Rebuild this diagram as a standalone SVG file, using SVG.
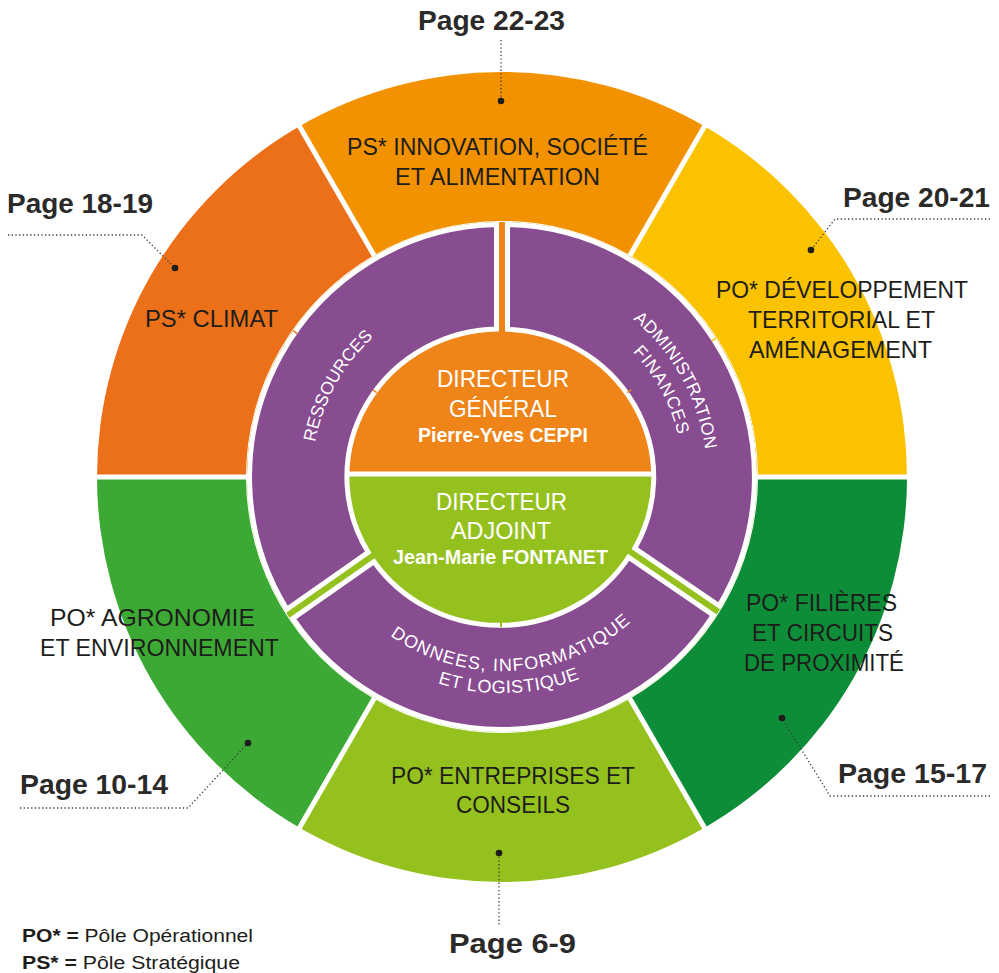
<svg xmlns="http://www.w3.org/2000/svg" width="999" height="973" viewBox="0 0 999 973">
<style>
.seg{font-family:"Liberation Sans",Arial,sans-serif;font-size:24px;fill:#1d1d1b;text-anchor:middle}
.page{font-family:"Liberation Sans",Arial,sans-serif;font-size:28px;font-weight:bold;fill:#2b2a29}
.dir{font-family:"Liberation Sans",Arial,sans-serif;font-size:24.5px;fill:#fff;text-anchor:middle}
.name{font-family:"Liberation Sans",Arial,sans-serif;font-size:20px;font-weight:bold;fill:#fff;text-anchor:middle}
.ring{font-family:"Liberation Sans",Arial,sans-serif;font-size:17.5px;fill:#fff;text-anchor:middle}
.lead{fill:none;stroke:#3c3c3b;stroke-width:1.3;stroke-dasharray:1.3 2.4}
.dot{fill:#1d1d1b}
.sep{stroke:#fff;stroke-width:5}
.purple{fill:#884d91;stroke:#fff;stroke-width:5;stroke-linejoin:miter}
.leg{font-family:"Liberation Sans",Arial,sans-serif;font-size:18px;fill:#1d1d1b}
.b{font-weight:bold}
</style>
<defs>
<path id="pRes" d="M 339.1 574.9 A 190 190 0 0 1 498.7 287.0"/>
<path id="pAdm" d="M 505.6 272.0 A 205 205 0 0 1 677.7 582.6"/>
<path id="pFin" d="M 506.7 296.1 A 181 181 0 0 1 656.3 571.6"/>
<path id="pDon1" d="M 313.2 521.8 A 194 194 0 0 0 694.7 499.5"/>
<path id="pDon2" d="M 290.7 521.9 A 216 216 0 0 0 715.9 507.1"/>
</defs>
<rect width="999" height="973" fill="#fff"/>

<g id="outer-segments">
<g id="seg-innovation">
<path d="M 299.5 126.3 A 405 405 0 0 1 704.5 126.3 L 630 255.3 A 256 256 0 0 0 374 255.3 Z" fill="#f39200"/>
<text class="seg" x="497.5" y="155" textLength="301" lengthAdjust="spacingAndGlyphs">PS* INNOVATION, SOCIÉTÉ</text>
<text class="seg" x="497.5" y="185" textLength="205" lengthAdjust="spacingAndGlyphs">ET ALIMENTATION</text>
<text class="page" x="418" y="30" textLength="147" lengthAdjust="spacingAndGlyphs">Page 22-23</text>
</g>
<g id="seg-climat">
<path d="M 97 477 A 405 405 0 0 1 299.5 126.3 L 374 255.3 A 256 256 0 0 0 246 477 Z" fill="#ec7019"/>
<text class="seg" x="211.5" y="327" textLength="133" lengthAdjust="spacingAndGlyphs">PS* CLIMAT</text>
<text class="page" x="7" y="213" textLength="146" lengthAdjust="spacingAndGlyphs">Page 18-19</text>
</g>
<g id="seg-developpement">
<path d="M 704.5 126.3 A 405 405 0 0 1 907 477 L 758 477 A 256 256 0 0 0 630 255.3 Z" fill="#fbc200"/>
<text class="seg" x="842" y="298" textLength="252" lengthAdjust="spacingAndGlyphs">PO* DÉVELOPPEMENT</text>
<text class="seg" x="841.5" y="328" textLength="187" lengthAdjust="spacingAndGlyphs">TERRITORIAL ET</text>
<text class="seg" x="840.5" y="358" textLength="183" lengthAdjust="spacingAndGlyphs">AMÉNAGEMENT</text>
<text class="page" x="843" y="207" textLength="147" lengthAdjust="spacingAndGlyphs">Page 20-21</text>
</g>
<g id="seg-filieres">
<path d="M 907 477 A 405 405 0 0 1 704.5 827.7 L 630 698.7 A 256 256 0 0 0 758 477 Z" fill="#0e8d38"/>
<text class="seg" x="821.5" y="611" textLength="151" lengthAdjust="spacingAndGlyphs">PO* FILIÈRES</text>
<text class="seg" x="822.5" y="641" textLength="141" lengthAdjust="spacingAndGlyphs">ET CIRCUITS</text>
<text class="seg" x="824" y="671" textLength="160" lengthAdjust="spacingAndGlyphs">DE PROXIMITÉ</text>
<text class="page" x="838" y="783" textLength="149" lengthAdjust="spacingAndGlyphs">Page 15-17</text>
</g>
<g id="seg-entreprises">
<path d="M 704.5 827.7 A 405 405 0 0 1 299.5 827.7 L 374 698.7 A 256 256 0 0 0 630 698.7 Z" fill="#95c11f"/>
<text class="seg" x="513" y="784" textLength="244" lengthAdjust="spacingAndGlyphs">PO* ENTREPRISES ET</text>
<text class="seg" x="513" y="813" textLength="114" lengthAdjust="spacingAndGlyphs">CONSEILS</text>
<text class="page" x="449" y="953" textLength="127" lengthAdjust="spacingAndGlyphs">Page 6-9</text>
</g>
<g id="seg-agronomie">
<path d="M 299.5 827.7 A 405 405 0 0 1 97 477 L 246 477 A 256 256 0 0 0 374 698.7 Z" fill="#3da935"/>
<text class="seg" x="152.5" y="626" textLength="205" lengthAdjust="spacingAndGlyphs">PO* AGRONOMIE</text>
<text class="seg" x="159.5" y="656" textLength="239" lengthAdjust="spacingAndGlyphs">ET ENVIRONNEMENT</text>
<text class="page" x="20" y="794" textLength="148" lengthAdjust="spacingAndGlyphs">Page 10-14</text>
</g>
<line class="sep" x1="88" y1="477" x2="916" y2="477"/>
<line class="sep" x1="297" y1="121.9" x2="707" y2="832.1"/>
<line class="sep" x1="707" y1="121.9" x2="297" y2="832.1"/>
</g>

<g id="directors">
<circle cx="502" cy="477" r="255" fill="#95c11f"/>
<path d="M 247.02 474 A 255 255 0 0 1 756.98 474 Z" fill="#ef8519"/>
<line x1="340" y1="474" x2="664" y2="474" stroke="#fff" stroke-width="5"/>
<g id="directeur-general">
<text class="dir" x="503" y="387" textLength="132" lengthAdjust="spacingAndGlyphs">DIRECTEUR</text>
<text class="dir" x="503" y="417" textLength="108" lengthAdjust="spacingAndGlyphs">GÉNÉRAL</text>
<text class="name" x="503" y="442" textLength="170" lengthAdjust="spacingAndGlyphs">Pierre-Yves CEPPI</text>
</g>
<g id="directeur-adjoint">
<text class="dir" x="501.5" y="510" textLength="131" lengthAdjust="spacingAndGlyphs">DIRECTEUR</text>
<text class="dir" x="501" y="539" textLength="100" lengthAdjust="spacingAndGlyphs">ADJOINT</text>
<text class="name" x="500.5" y="564" textLength="215" lengthAdjust="spacingAndGlyphs">Jean-Marie FONTANET</text>
</g>
</g>

<g id="ring">
<g id="ressources">
<path class="purple" d="M 286.9 609.2 A 252.5 252.5 0 0 1 496.5 224.6 L 496.5 329.0 A 153 148 0 0 0 368.2 552.3 Z"/>
<text class="ring" letter-spacing="0"><textPath href="#pRes" startOffset="50%">RESSOURCES</textPath></text>
</g>
<g id="administration">
<path class="purple" d="M 507.5 224.6 A 252.5 252.5 0 0 1 719.2 605.7 L 634.8 548.3 A 153 148 0 0 0 507.5 329.2 Z"/>
<text class="ring" letter-spacing="0.3"><textPath href="#pAdm" startOffset="50%">ADMINISTRATION</textPath></text>
<text class="ring" letter-spacing="1"><textPath href="#pFin" startOffset="50%">FINANCES</textPath></text>
</g>
<g id="donnees">
<path class="purple" d="M 713.4 615.1 A 252.5 252.5 0 0 1 292.9 618.5 L 374.0 561.7 A 153 148 0 0 0 628.5 557.3 Z"/>
<text class="ring" style="font-size:18px" letter-spacing="1.2"><textPath href="#pDon1" startOffset="50%">DONNEES, INFORMATIQUE</textPath></text>
<text class="ring" style="font-size:18px" letter-spacing="0.6"><textPath href="#pDon2" startOffset="50%">ET LOGISTIQUE</textPath></text>
</g>
<line x1="297.2" y1="333.6" x2="293.1" y2="330.7" stroke="#ec7019" stroke-width="1.5"/>
<line x1="376.8" y1="392.6" x2="372.7" y2="389.8" stroke="#ef8519" stroke-width="1.5"/>
<line x1="711.7" y1="340.8" x2="715.9" y2="338.1" stroke="#fbc200" stroke-width="1.5"/>
<line x1="627.2" y1="392.6" x2="631.3" y2="389.8" stroke="#ef8519" stroke-width="1.5"/>
<line x1="501" y1="622" x2="501" y2="627" stroke="#95c11f" stroke-width="2"/>
</g>

<g id="connectors">
<polyline class="lead" points="501,40 501,101"/>
<polyline class="lead" points="8,235 142,235 175,268"/>
<polyline class="lead" points="990,219 835,219 811,250"/>
<polyline class="lead" points="20,808 188,808 248,743"/>
<polyline class="lead" points="990,796 830,796 782,718"/>
<polyline class="lead" points="499,853 499,926"/>
<circle class="dot" cx="501" cy="101" r="3.3"/>
<circle class="dot" cx="175" cy="268" r="3.3"/>
<circle class="dot" cx="811" cy="250" r="3.3"/>
<circle class="dot" cx="248" cy="743" r="3.3"/>
<circle class="dot" cx="782" cy="718" r="3.3"/>
<circle class="dot" cx="499" cy="853" r="3.3"/>
</g>

<g id="legend">
<text class="leg" x="22" y="942" textLength="231" lengthAdjust="spacingAndGlyphs"><tspan class="b">PO* =</tspan> Pôle Opérationnel</text>
<text class="leg" x="22" y="969" textLength="218" lengthAdjust="spacingAndGlyphs"><tspan class="b">PS* =</tspan> Pôle Stratégique</text>
</g>
</svg>
